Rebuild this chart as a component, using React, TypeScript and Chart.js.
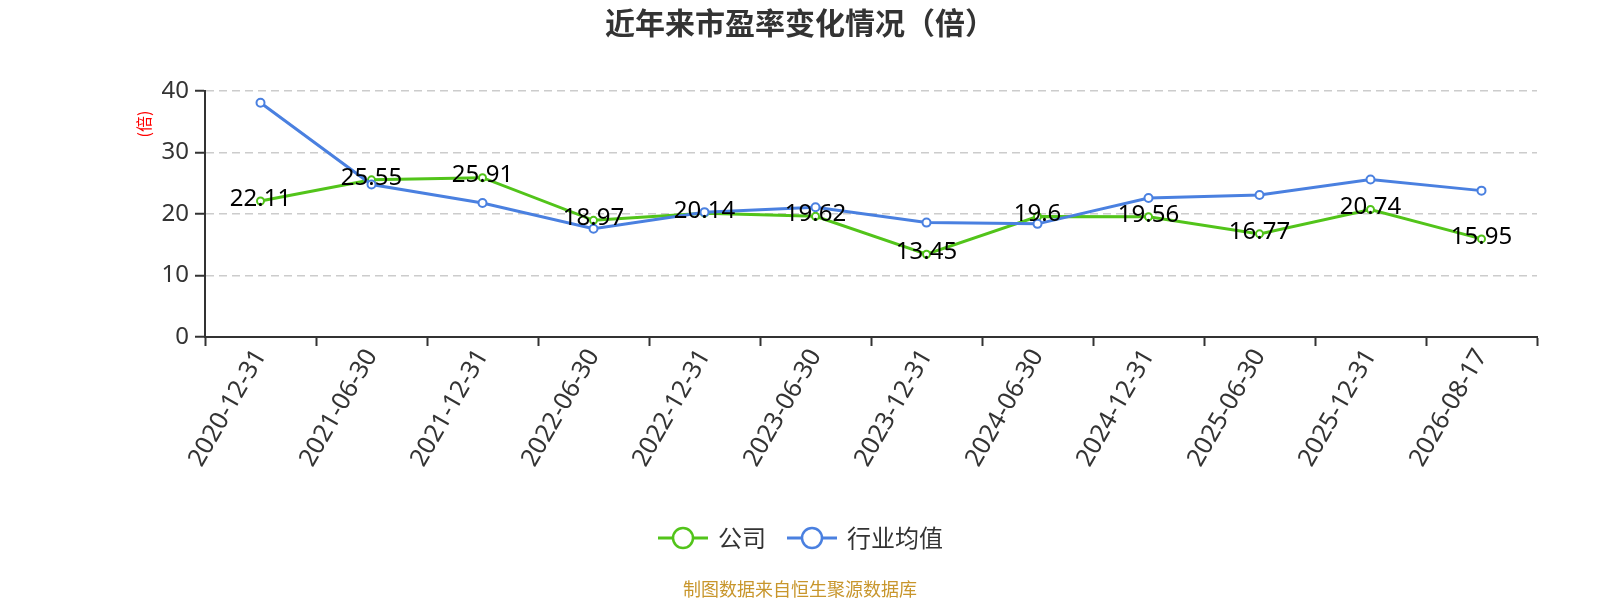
import React, { useEffect, useRef } from 'react';
import { Chart, registerables } from 'chart.js';

Chart.register(...registerables);

const dates = [
  '2020-12-31', '2021-06-30', '2021-12-31', '2022-06-30', '2022-12-31', '2023-06-30',
  '2023-12-31', '2024-06-30', '2024-12-31', '2025-06-30', '2025-12-31', '2026-08-17',
];
const companyPE = [22.11, 25.55, 25.91, 18.97, 20.14, 19.62, 13.45, 19.6, 19.56, 16.77, 20.74, 15.95];
const industryPE = [38.1, 24.8, 21.8, 17.6, 20.3, 21.1, 18.6, 18.4, 22.6, 23.1, 25.6, 23.8];
const yTicks = [0, 10, 20, 30, 40];

const GREEN = '#52c41a';
const BLUE = '#4a80e0';
const FONT = '"Noto Sans", "Noto Sans CJK SC", sans-serif';
const CJK = '"Noto Sans CJK SC", "Noto Sans", sans-serif';

// labels, title, legend and source line drawn by hand
const extras = {
  id: 'extras',
  afterDatasetsDraw(chart: any) {
    const ctx = chart.ctx;
    const meta = chart.getDatasetMeta(0);
    ctx.save();
    ctx.font = `24px ${FONT}`;
    ctx.fillStyle = '#000';
    ctx.textAlign = 'center';
    ctx.textBaseline = 'middle';
    meta.data.forEach((pt: any, i: number) => {
      ctx.fillText(String(companyPE[i]), pt.x, pt.y - 2);
    });
    ctx.restore();
  },
  afterDraw(chart: any) {
    const ctx = chart.ctx;
    ctx.save();
    // title
    ctx.font = `bold 30px ${CJK}`;
    ctx.fillStyle = '#333';
    ctx.textAlign = 'center';
    ctx.textBaseline = 'middle';
    ctx.fillText('近年来市盈率变化情况（倍）', 800, 23);

    // y axis name
    ctx.save();
    ctx.translate(144, 124);
    ctx.rotate(-Math.PI / 2);
    ctx.font = `16px ${CJK}`;
    ctx.fillStyle = '#ff0000';
    ctx.fillText('(倍)', 0, 0);
    ctx.restore();

    // legend
    const items = [
      { text: '公司', color: GREEN, x: 658 },
      { text: '行业均值', color: BLUE, x: 787 },
    ];
    const ly = 538;
    items.forEach((it) => {
      ctx.strokeStyle = it.color;
      ctx.lineWidth = 3;
      ctx.beginPath();
      ctx.moveTo(it.x, ly);
      ctx.lineTo(it.x + 50, ly);
      ctx.stroke();
      ctx.beginPath();
      ctx.arc(it.x + 25, ly, 10, 0, Math.PI * 2);
      ctx.fillStyle = '#fff';
      ctx.fill();
      ctx.lineWidth = 2.5;
      ctx.stroke();
      ctx.font = `24px ${CJK}`;
      ctx.fillStyle = '#333';
      ctx.textAlign = 'left';
      ctx.fillText(it.text, it.x + 60, ly);
    });

    // source
    ctx.font = `18px ${CJK}`;
    ctx.fillStyle = '#c8962c';
    ctx.textAlign = 'center';
    ctx.fillText('制图数据来自恒生聚源数据库', 800, 589);
    ctx.restore();
  },
};

const PEChart = () => {
  const canvasRef = useRef<HTMLCanvasElement>(null);

  useEffect(() => {
    if (!canvasRef.current) return;
    const chart = new Chart(canvasRef.current, {
      type: 'line',
      data: {
        labels: dates,
        datasets: [
          {
            label: '公司',
            data: companyPE,
            borderColor: GREEN,
            backgroundColor: '#fff',
            borderWidth: 3,
            pointRadius: 3.5,
            pointBorderWidth: 2,
            pointBackgroundColor: '#fff',
            pointBorderColor: GREEN,
            tension: 0,
            order: 1,
          },
          {
            label: '行业均值',
            data: industryPE,
            borderColor: BLUE,
            backgroundColor: '#fff',
            borderWidth: 3,
            pointRadius: 4,
            pointBorderWidth: 2,
            pointBackgroundColor: '#fff',
            pointBorderColor: BLUE,
            tension: 0,
            order: 0,
          },
        ],
      },
      options: {
        animation: false,
        responsive: true,
        maintainAspectRatio: false,
        layout: { padding: { top: 91, right: 63, left: 0, bottom: 0 } },
        plugins: {
          legend: { display: false },
          title: { display: false },
          tooltip: { enabled: false },
        },
        scales: {
          x: {
            offset: true,
            grid: {
              offset: true,
              drawOnChartArea: false,
              tickLength: 9,
              tickColor: '#333',
              tickWidth: 2,
            },
            border: { color: '#333', width: 2 },
            ticks: {
              color: '#333',
              font: { size: 25, family: FONT },
              minRotation: 60,
              maxRotation: 60,
              padding: -2,
              autoSkip: false,
            },
            afterFit: (scale: any) => {
              scale.height = 263;
            },
          },
          y: {
            min: 0,
            max: 40,
            afterBuildTicks: (scale: any) => {
              scale.ticks = yTicks.map((v) => ({ value: v }));
            },
            grid: {
              color: '#cccccc',
              lineWidth: 1.5,
              tickLength: 10,
              tickColor: '#333',
              tickWidth: 2,
              tickBorderDash: [],
            },
            border: { color: '#333', width: 2, dash: [8, 5] },
            ticks: {
              color: '#333',
              font: { size: 24, family: FONT },
              padding: 6,
            },
            afterFit: (scale: any) => {
              scale.width = 205;
            },
          },
        },
      },
      plugins: [extras],
    });
    return () => chart.destroy();
  }, []);

  return <canvas ref={canvasRef} />;
};

export default function App() {
  return (
    <div style={{ position: 'fixed', left: 0, top: 0, width: '1600px', height: '600px', background: '#fff' }}>
      <PEChart />
    </div>
  );
}
